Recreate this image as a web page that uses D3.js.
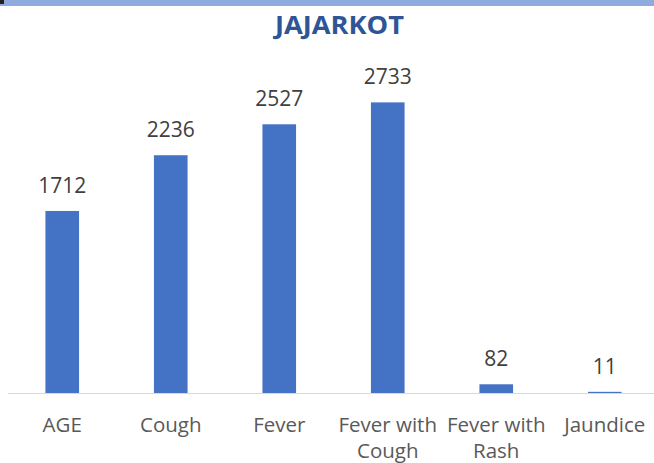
<!DOCTYPE html>
<html>
<head>
<meta charset="utf-8">
<script src="https://cdn.jsdelivr.net/npm/d3@7"></script>
<style>
  html, body { margin: 0; padding: 0; background: #fff; }
  svg { display: block; }
  text { font-family: "Open Sans", "Noto Sans", sans-serif; }
</style>
</head>
<body>
<div id="chart"></div>
<script>
// chart data
var title = 'JAJARKOT';
var categories = [ 'AGE', 'Cough', 'Fever', 'Fever with Cough', 'Fever with Rash', 'Jaundice' ];
var categoryLines = [ ['AGE'], ['Cough'], ['Fever'], ['Fever with', 'Cough'], ['Fever with', 'Rash'], ['Jaundice'] ];
var values = [ 1712, 2236, 2527, 2733, 82, 11 ];

var width = 654, height = 463,
    margin = { top: 74, right: -5, bottom: 70, left: 8 },
    baseY = height - margin.bottom;

var svg = d3.select( '#chart' ).append( 'svg' )
  .attr( 'width', width )
  .attr( 'height', height );

// header band
svg.append( 'rect' )
  .attr( 'x', 0 ).attr( 'y', 0 )
  .attr( 'width', width ).attr( 'height', 6 )
  .attr( 'fill', '#8faadc' );

svg.append( 'rect' )
  .attr( 'x', 0 ).attr( 'y', 0 )
  .attr( 'width', 4 ).attr( 'height', 4 )
  .attr( 'fill', '#222' );

svg.append( 'text' )
  .attr( 'x', 339.5 )
  .attr( 'y', 34 )
  .attr( 'text-anchor', 'middle' )
  .attr( 'fill', '#2f5597' )
  .attr( 'font-weight', 'bold' )
  .attr( 'font-size', 25 )
  .attr( 'textLength', 129 )
  .attr( 'lengthAdjust', 'spacingAndGlyphs' )
  .text( title );

var x = d3.scaleBand()
  .domain( categories )
  .range( [ margin.left, width - margin.right ] )
  .paddingInner( 0.69 )
  .paddingOuter( 0.345 );

var y = d3.scaleLinear()
  .domain( [ 0, 3000 ] )
  .range( [ baseY, margin.top ] );

// baseline
svg.append( 'line' )
  .attr( 'x1', margin.left ).attr( 'x2', width )
  .attr( 'y1', baseY + 0.5 ).attr( 'y2', baseY + 0.5 )
  .attr( 'stroke', '#d9d9d9' )
  .attr( 'stroke-width', 1 );

var bars = svg.append( 'g' ).attr( 'class', 'bars' );

bars.selectAll( 'rect' )
  .data( values )
  .enter().append( 'rect' )
  .attr( 'x', function( d, i ) { return x( categories[ i ] ); } )
  .attr( 'y', function( d ) { return y( d ); } )
  .attr( 'width', x.bandwidth() )
  .attr( 'height', function( d ) { return baseY - y( d ); } )
  .attr( 'fill', '#4472c4' );

bars.selectAll( 'text' )
  .data( values )
  .enter().append( 'text' )
  .attr( 'x', function( d, i ) { return x( categories[ i ] ) + x.bandwidth() / 2; } )
  .attr( 'y', function( d ) { return y( d ) - 18; } )
  .attr( 'text-anchor', 'middle' )
  .attr( 'font-size', 21 )
  .attr( 'fill', '#404040' )
  .text( function( d ) { return d; } );

// category labels
var labels = svg.append( 'g' ).attr( 'class', 'labels' );

labels.selectAll( 'text' )
  .data( categories )
  .enter().append( 'text' )
  .attr( 'x', function( d ) { return x( d ) + x.bandwidth() / 2; } )
  .attr( 'y', 431.5 )
  .attr( 'text-anchor', 'middle' )
  .attr( 'font-size', 20.5 )
  .attr( 'fill', '#595959' )
  .each( function( d, i ) {
    var t = d3.select( this );
    categoryLines[ i ].forEach( function( line, j ) {
      t.append( 'tspan' )
        .attr( 'x', x( d ) + x.bandwidth() / 2 )
        .attr( 'dy', j === 0 ? 0 : 26.5 )
        .text( line );
    } );
  } );
</script>
</body>
</html>
